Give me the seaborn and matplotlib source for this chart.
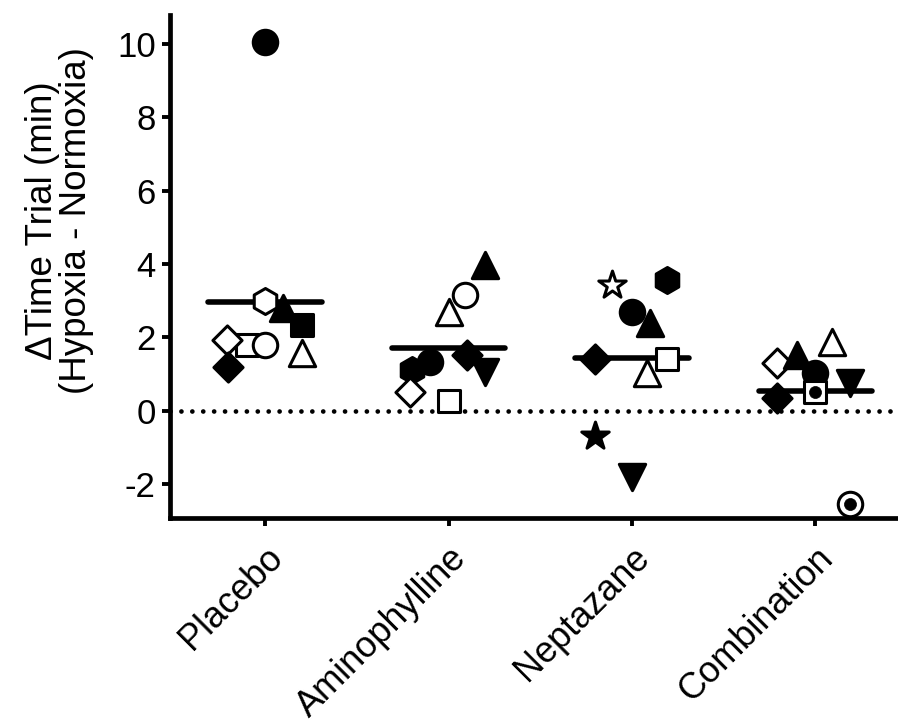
import matplotlib
matplotlib.use("Agg")
import matplotlib.pyplot as plt
import seaborn as sns
import pandas as pd
import numpy as np

# ---------------- data ----------------
groups = ["Placebo", "Aminophylline", "Neptazane", "Combination"]

# marker codes: fc=filled circle, oc=open circle, ft=filled triangle up, ot=open triangle,
# fd=filled diamond, od=open diamond, fs=filled square, os=open square, fh=filled hexagon,
# oh=open hexagon, fv=filled triangle down, fstar=filled star, ostar=open star,
# osd=open square with dot, ocd=open circle with dot
placebo_vals   = [2.99, 2.80, 2.34, 1.79, 1.79, 1.93, 1.58, 1.20, 10.05]
placebo_marks  = ["oh", "ft", "fs", "os", "oc", "od", "ot", "fd", "fc"]
placebo_jit    = [0.0, 0.10, 0.20, -0.10, 0.0, -0.21, 0.20, -0.20, 0.0]

amino_vals     = [3.97, 3.15, 2.69, 1.11, 1.33, 1.52, 1.06, 0.52, 0.27]
amino_marks    = ["ft", "oc", "ot", "fh", "fc", "fd", "fv", "od", "os"]
amino_jit      = [0.20, 0.09, 0.0, -0.20, -0.10, 0.10, 0.20, -0.21, 0.0]

nept_vals      = [3.42, 3.56, 2.69, 2.39, 1.41, 1.41, 1.03, -0.68, -1.79]
nept_marks     = ["ostar", "fh", "fc", "ft", "fd", "os", "ot", "fstar", "fv"]
nept_jit       = [-0.11, 0.19, 0.0, 0.10, -0.20, 0.19, 0.08, -0.20, 0.0]

comb_vals      = [1.88, 1.30, 1.52, 1.03, 0.52, 0.76, 0.35, -2.55]
comb_marks     = ["ot", "od", "ft", "fc", "osd", "fv", "fd", "ocd"]
comb_jit       = [0.09, -0.21, -0.10, 0.0, 0.0, 0.19, -0.21, 0.19]

group_means    = [2.96, 1.72, 1.44, 0.55]

yticks = [-2, 0, 2, 4, 6, 8, 10]
ylabel = "\u0394Time Trial (min)\n(Hypoxia - Normoxia)"

# ---------------- styles ----------------
style = {
    "fc": ("o", True), "oc": ("o", False),
    "ft": ("^", True), "ot": ("^", False),
    "fv": ("v", True),
    "fd": ("D", True), "od": ("D", False),
    "fs": ("s", True), "os": ("s", False),
    "fh": ("h", True), "oh": ("h", False),
    "fstar": ("*", True), "ostar": ("*", False),
    "osd": ("s", False), "ocd": ("o", False),
}
size = {"o": 310, "^": 360, "v": 360, "D": 220, "s": 270, "h": 350, "*": 430}

rows = []
for gi, (vals, marks, jit) in enumerate([
        (placebo_vals, placebo_marks, placebo_jit),
        (amino_vals, amino_marks, amino_jit),
        (nept_vals, nept_marks, nept_jit),
        (comb_vals, comb_marks, comb_jit)]):
    for v, m, j in zip(vals, marks, jit):
        rows.append({"group": groups[gi], "gi": gi, "x": gi + j, "value": v, "mark": m})
df = pd.DataFrame(rows)

# ---------------- figure ----------------
sns.set_style("white")
plt.rcParams["font.family"] = ["Liberation Sans", "DejaVu Sans"]
plt.rcParams["text.color"] = "black"
plt.rcParams["axes.labelcolor"] = "black"
plt.rcParams["xtick.color"] = "black"
plt.rcParams["ytick.color"] = "black"

fig = plt.figure(figsize=(8.98, 7.23), dpi=100)
ax = fig.add_axes([0.189, 0.2835, 0.811, 0.6955])

# mean lines
for gi, mval in enumerate(group_means):
    sns.lineplot(x=[gi - 0.31, gi + 0.31], y=[mval, mval], color="black",
                 linewidth=4, solid_capstyle="round", ax=ax, zorder=2)

z = 3
for _, r in df.iterrows():
    mk, filled = style[r["mark"]]
    sns.scatterplot(x=[r["x"]], y=[r["value"]], marker=mk, s=size[mk],
                    color="black" if filled else "white",
                    edgecolor="black", linewidth=2.2, ax=ax, zorder=z, legend=False)
    if r["mark"] in ("osd", "ocd"):
        sns.scatterplot(x=[r["x"]], y=[r["value"]], marker="o", s=75,
                        color="black", edgecolor="black", linewidth=0.5,
                        ax=ax, zorder=z + 0.5, legend=False)
    z += 1

# zero reference line
ax.axhline(0, color="black", linewidth=3.4, linestyle=(0, (0.01, 2.3)),
           dash_capstyle="round", zorder=1.5)

ax.set_xlim(-0.52, 3.45)
ax.set_ylim(-2.92, 10.78)
ax.set_xticks(range(len(groups)))
ax.set_xticklabels(groups, rotation=45, ha="right", rotation_mode="anchor",
                   fontsize=26, color="black")
ax.set_yticks(yticks)
ax.set_yticklabels([str(t) for t in yticks], fontsize=25, color="black")
ax.set_xlabel("")
ax.set_ylabel(ylabel, fontsize=26.5, linespacing=0.98, color="black")
ax.yaxis.set_label_coords(-0.104, 0.592)

for side in ["top", "right"]:
    ax.spines[side].set_visible(False)
for side in ["left", "bottom"]:
    ax.spines[side].set_linewidth(3.4)
    ax.spines[side].set_color("black")
ax.tick_params(axis="both", direction="out", length=6, width=2.8, color="black",
               pad=4, bottom=True, left=True)
ax.tick_params(axis="x", pad=10)

fig.savefig("out.png", dpi=100)
